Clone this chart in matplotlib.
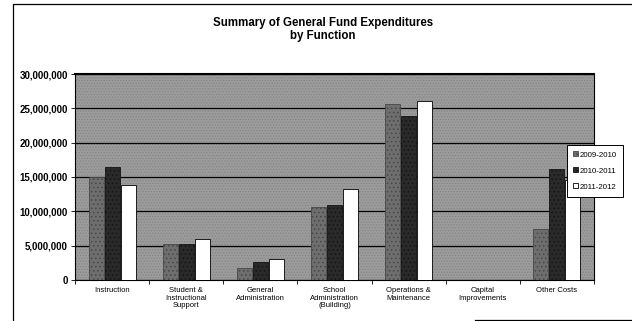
import matplotlib
matplotlib.use("Agg")
import matplotlib.pyplot as plt
import numpy as np
from matplotlib.lines import Line2D
from matplotlib.ticker import FuncFormatter

plt.rcParams['font.family'] = ['Liberation Sans', 'DejaVu Sans']
plt.rcParams['hatch.linewidth'] = 0.6

# general fund expenditures by function (dollars)
categories = ["Instruction", "Student &\nInstructional\nSupport", "General\nAdministration",
              "School\nAdministration\n(Building)", "Operations &\nMaintenance",
              "Capital\nImprovements", "Other Costs"]
years = ["2009-2010", "2010-2011", "2011-2012"]
fy2010 = [15000000, 5300000, 1800000, 10600000, 25700000, 0, 7500000]
fy2011 = [16400000, 5300000, 2650000, 10900000, 23900000, 0, 16200000]
fy2012 = [13800000, 5950000, 3100000, 13300000, 26000000, 0, 14500000]

fig = plt.figure(figsize=(6.32, 3.21), dpi=100)
ax = fig.add_axes([75 / 632, 41 / 321, 519 / 632, 206 / 321])
ax.set_facecolor('#9c9c9c')
ax.patch.set_hatch('......')
ax.patch.set_edgecolor('#848484')

x = np.arange(len(categories))
w = 0.215
styles = [
    dict(color='#6e6e6e', hatch='....', edgecolor='#474747'),
    dict(color='#2a2a2a', hatch='....', edgecolor='#141414'),
    dict(color='white', edgecolor='black'),
]
for i, (vals, lab, st) in enumerate(zip([fy2010, fy2011, fy2012], years, styles)):
    ax.bar(x + (i - 1) * w, vals, w * 0.94, label=lab, linewidth=0.6,
           zorder=3, **st)

ax.set_ylim(0, 30000000)
ax.set_xlim(-0.5, len(categories) - 0.5)
ax.set_yticks(np.arange(0, 30000001, 5000000))
ax.yaxis.set_major_formatter(FuncFormatter(lambda v, p: f"{int(v):,}"))
ax.yaxis.grid(True, color='black', linewidth=0.9, zorder=1)
ax.set_axisbelow(True)

ax.set_xticks(x)
ax.set_xticklabels(categories, fontsize=5.5, linespacing=1.15)
ax.set_xticks(np.arange(-0.5, len(categories), 1), minor=True)
ax.tick_params(axis='x', which='major', length=0, pad=5)
ax.tick_params(axis='x', which='minor', length=3, direction='out', width=0.6)
ax.tick_params(axis='y', length=3, width=0.6, labelsize=7, pad=2)
for t in ax.get_yticklabels():
    t.set_fontweight('bold')

for side in ['left', 'bottom', 'top', 'right']:
    ax.spines[side].set_linewidth(0.8)
ax.spines['top'].set_linewidth(1.5)

fig.text(323 / 632, 1 - 17 / 321, "Summary of General Fund Expenditures\nby Function",
         ha='center', va='top', fontsize=8.3, fontweight='bold', linespacing=1.1)

leg = ax.legend(loc='upper left', bbox_to_anchor=(567 / 632, 1 - 145 / 321),
                bbox_transform=fig.transFigure, fontsize=5.7, frameon=True,
                fancybox=False, edgecolor='black', framealpha=1, borderaxespad=0,
                handlelength=0.6, handleheight=0.6, handletextpad=0.2,
                labelspacing=1.1, borderpad=0.8)
leg.get_frame().set_linewidth(0.7)
leg.set_zorder(5)

# outer frame of the page
fig.add_artist(Line2D([13 / 632, 13 / 632], [1 / 321, 1 - 5 / 321], color='black', lw=0.9))
fig.add_artist(Line2D([13 / 632, 1], [1 - 4 / 321, 1 - 4 / 321], color='black', lw=0.9))
fig.add_artist(Line2D([475 / 632, 1], [1 / 321, 1 / 321], color='black', lw=0.9))

fig.savefig("out.png", dpi=100)
